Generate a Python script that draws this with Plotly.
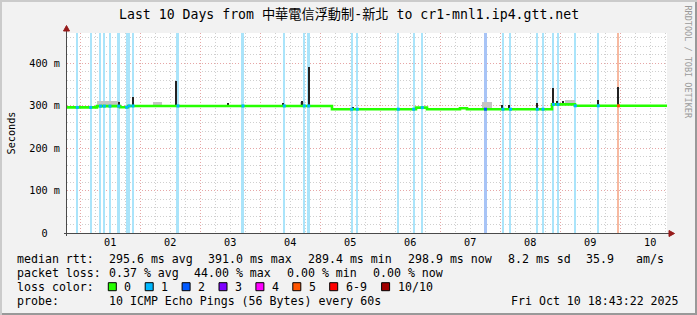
import plotly.graph_objects as go
import pandas as pd

# ---------------- data ----------------
t_start = "2025-09-30 18:43:22"
t_end = "2025-10-10 18:43:22"
y_top = 0.4706  # seconds, top of value axis

# median RTT (ms), step changes
median_times = ["2025-09-30 18:43", "2025-10-01 06:43", "2025-10-01 15:55", "2025-10-01 19:07",
                "2025-10-05 04:43", "2025-10-06 14:19", "2025-10-06 18:43", "2025-10-07 07:55",
                "2025-10-07 10:43", "2025-10-08 20:43", "2025-10-09 05:55", "2025-10-10 18:43"]
median_ms = [295.5, 298.5, 295.8, 299.0, 291.3, 295.0, 291.3, 293.5, 291.3, 302.6, 299.3, 299.3]

# packet-loss intervals: time, duration (minutes), loss level (x/10)
loss_times = ["2025-09-30 22:50", "2025-10-01 04:12", "2025-10-01 08:07", "2025-10-01 09:38",
              "2025-10-01 11:55", "2025-10-01 15:24", "2025-10-01 18:36", "2025-10-01 19:36",
              "2025-10-01 21:07", "2025-10-02 15:07", "2025-10-03 17:07", "2025-10-04 09:38",
              "2025-10-04 17:38", "2025-10-04 19:24", "2025-10-05 12:36", "2025-10-05 14:50",
              "2025-10-06 07:14", "2025-10-06 13:24", "2025-10-06 16:50", "2025-10-07 18:07",
              "2025-10-08 01:07", "2025-10-08 04:07", "2025-10-08 14:50", "2025-10-08 17:07",
              "2025-10-08 21:19", "2025-10-08 23:07", "2025-10-09 06:02", "2025-10-09 15:14",
              "2025-10-09 23:19"]
loss_minutes = [24, 24, 24, 24, 24, 72, 48, 48, 48, 72, 72, 24, 24, 72, 24, 24, 24, 24, 24, 72,
                24, 24, 24, 48, 48, 48, 48, 24, 24]
loss_levels = [1, 1, 1, 1, 1, 1, 1, 1, 1, 1, 1, 1, 1, 1, 1, 1, 1, 1, 1, 2,
               1, 1, 1, 1, 1, 1, 1, 1, 5]

# light smoke (ping spread) areas: start, end, low ms, high ms
smoke_start = ["2025-10-01 06:50", "2025-10-02 05:07", "2025-10-04 15:55", "2025-10-07 16:36", "2025-10-09 01:55"]
smoke_end = ["2025-10-01 15:30", "2025-10-02 08:43", "2025-10-04 17:30", "2025-10-07 20:36", "2025-10-09 05:55"]
smoke_low = [300.0, 300.5, 300.0, 292.0, 302.5]
smoke_high = [311.5, 309.0, 309.0, 308.0, 313.0]

# dark smoke spikes (max pings): time, low ms, high ms
spike_times = ["2025-10-01 15:24", "2025-10-01 21:07", "2025-10-02 14:19", "2025-10-03 11:14",
               "2025-10-04 09:14", "2025-10-04 16:43", "2025-10-04 19:31", "2025-10-05 13:00",
               "2025-10-06 07:00", "2025-10-08 00:43", "2025-10-08 03:31", "2025-10-08 14:50",
               "2025-10-08 21:14", "2025-10-08 22:55", "2025-10-09 01:05", "2025-10-09 15:00",
               "2025-10-09 23:19"]
spike_low = [299.0, 299.0, 299.0, 299.0, 299.0, 299.0, 299.0, 290.0, 289.5, 290.0, 290.0, 290.0,
             302.0, 301.0, 301.0, 299.0, 299.0]
spike_high = [309.0, 320.0, 357.0, 305.0, 306.0, 310.0, 391.0, 296.0, 295.0, 302.0, 302.0, 305.0,
              341.0, 310.0, 310.0, 312.0, 343.0]

day_labels_fmt = "%d"
y_tick_vals = [0, 0.1, 0.2, 0.3, 0.4]
y_tick_text = ["0\u00a0\u00a0", "100 m", "200 m", "300 m", "400 m"]

title_text = "Last 10 Days from 中華電信浮動制-新北 to cr1-mnl1.ip4.gtt.net"
row1 = ["median rtt:", "295.6 ms avg", "391.0 ms max", "289.4 ms min", "298.9 ms now", "8.2 ms sd", "35.9", "am/s"]
row2 = ["packet loss:", "0.37 % avg", "44.00 % max", "0.00 % min", "0.00 % now"]
loss_legend_labels = ["0", "1", "2", "3", "4", "5", "6-9", "10/10"]
probe_label = "probe:"
probe_text = "10 ICMP Echo Pings (56 Bytes) every 60s"
stamp_text = "Fri Oct 10 18:43:22 2025"

loss_line_color = {0: "#26ff00", 1: "#00b8ff", 2: "#0059ff", 3: "#7e00ff", 4: "#ff00ff",
                   5: "#ff5500", 6: "#ff0000", 10: "#a10000"}
legend_swatch_colors = ["#26ff00", "#00b8ff", "#0059ff", "#7e00ff", "#ff00ff", "#ff5500", "#ff0000", "#a10000"]
loss_bg_color = {1: "#aae4fa", 2: "#a8c4f6", 5: "#f7b9a0"}

# ---------------- geometry ----------------
W, H = 697, 315
L, R, T, B = 67, 667, 33, 233


def X(px):
    return (px - L) / (R - L)


def Y(py):
    return (B - py) / (B - T)


MONO = "DejaVu Sans Mono, Noto Sans CJK TC, monospace"

fig = go.Figure()

# loss background bars
fig.add_trace(go.Bar(
    x=loss_times, y=[y_top] * len(loss_times), base=0,
    width=[m * 60000 for m in loss_minutes],
    marker=dict(color=[loss_bg_color[l] for l in loss_levels], line=dict(width=0)),
    hoverinfo="skip", showlegend=False))

# light smoke
s0 = pd.to_datetime(smoke_start)
s1 = pd.to_datetime(smoke_end)
fig.add_trace(go.Bar(
    x=list(s0 + (s1 - s0) / 2), width=[(b - a).total_seconds() * 1000 for a, b in zip(s0, s1)],
    base=[v / 1000 for v in smoke_low], y=[(h - l) / 1000 for l, h in zip(smoke_low, smoke_high)],
    marker=dict(color="#c4c4c4", line=dict(width=0)), hoverinfo="skip", showlegend=False))

# dark spikes
fig.add_trace(go.Bar(
    x=spike_times, width=[30 * 60000] * len(spike_times),
    base=[v / 1000 for v in spike_low], y=[(h - l) / 1000 for l, h in zip(spike_low, spike_high)],
    marker=dict(color="#222222", line=dict(width=0)), hoverinfo="skip", showlegend=False))

# median line
fig.add_trace(go.Scatter(
    x=median_times, y=[v / 1000 for v in median_ms], mode="lines", line_shape="hv",
    line=dict(color=loss_line_color[0], width=2.6), hoverinfo="skip", showlegend=False))

# loss-coloured median segments
mt = pd.to_datetime(median_times)
lt = pd.to_datetime(loss_times)
idx = mt.searchsorted(lt, side="right") - 1
fig.add_trace(go.Scatter(
    x=loss_times, y=[median_ms[i] / 1000 for i in idx], mode="markers",
    marker=dict(symbol="square", size=3, color=[loss_line_color[l] for l in loss_levels], line=dict(width=0)),
    hoverinfo="skip", showlegend=False))

GRID_MAJ = "#e6a6a6"
GRID_MIN = "#cfcfcf"
DASH = "1px,2px"

fig.update_xaxes(
    type="date", range=[t_start, t_end], tick0="2025-10-01", dtick=86400000,
    tickformat=day_labels_fmt, ticklabelmode="period", ticks="", showline=False,
    showgrid=True, gridcolor=GRID_MAJ, griddash=DASH, gridwidth=1,
    minor=dict(dtick=21600000, tick0="2025-10-01", showgrid=True, gridcolor=GRID_MIN, griddash=DASH, gridwidth=1),
    tickfont=dict(family=MONO, size=10.2, color="#000"), ticklabelstandoff=2, fixedrange=True)
fig.update_yaxes(
    range=[0, y_top], tickvals=y_tick_vals, ticktext=y_tick_text, ticks="", showline=False,
    zeroline=False, showgrid=True, gridcolor=GRID_MAJ, griddash=DASH, gridwidth=1,
    minor=dict(dtick=0.02, tick0=0, showgrid=True, gridcolor=GRID_MIN, griddash=DASH, gridwidth=1),
    tickfont=dict(family=MONO, size=10.2, color="#000"), ticklabelstandoff=6, fixedrange=True)

shapes = []
# frame
shapes += [
    dict(type="rect", xref="paper", yref="paper", x0=X(0), x1=X(W), y0=Y(0), y1=Y(2), fillcolor="#cbcbcb", line_width=0, layer="above"),
    dict(type="rect", xref="paper", yref="paper", x0=X(0), x1=X(2), y0=Y(0), y1=Y(H), fillcolor="#cbcbcb", line_width=0, layer="above"),
    dict(type="rect", xref="paper", yref="paper", x0=X(2), x1=X(W), y0=Y(H - 2), y1=Y(H), fillcolor="#999999", line_width=0, layer="above"),
    dict(type="rect", xref="paper", yref="paper", x0=X(W - 2), x1=X(W), y0=Y(2), y1=Y(H), fillcolor="#999999", line_width=0, layer="above"),
]
# axes
AX = "#4a4a4a"
ARROW = "#961a1a"
shapes += [
    dict(type="line", xref="paper", yref="paper", x0=X(64), x1=X(669), y0=Y(233.5), y1=Y(233.5), line=dict(color=AX, width=1), layer="above"),
    dict(type="line", xref="paper", yref="paper", x0=X(66.5), x1=X(66.5), y0=Y(236), y1=Y(30), line=dict(color=AX, width=1), layer="above"),
    dict(type="path", xref="paper", yref="paper", layer="above", fillcolor=ARROW, line=dict(color=ARROW, width=1),
         path=f"M {X(63.5)} {Y(31)} L {X(69.5)} {Y(31)} L {X(66.5)} {Y(25.5)} Z"),
    dict(type="path", xref="paper", yref="paper", layer="above", fillcolor=ARROW, line=dict(color=ARROW, width=1),
         path=f"M {X(669)} {Y(230.5)} L {X(669)} {Y(236.5)} L {X(674.5)} {Y(233.5)} Z"),
]
# loss colour legend swatches
swatch_x = [108.3, 145.2, 182.1, 219.0, 255.9, 292.8, 329.7, 381.6]
for sx, col in zip(swatch_x, legend_swatch_colors):
    shapes.append(dict(type="rect", xref="paper", yref="paper", x0=X(sx), x1=X(sx + 8), y0=Y(282.7), y1=Y(290.7),
                       fillcolor=col, line=dict(color="#000", width=1), layer="above"))

ann = []


def txt(text, px, py, size=11.6, anchor="left", color="#000", angle=0):
    ann.append(dict(text=text, xref="paper", yref="paper", x=X(px), y=Y(py), xanchor=anchor, yanchor="middle",
                    showarrow=False, borderpad=0, textangle=angle, font=dict(family=MONO, size=size, color=color)))


txt(title_text, 348.5, 14.5, size=13.2, anchor="center")
txt("Seconds", 10.5, 133, size=10.2, anchor="center", angle=-90)
ann.append(dict(text="RRDTOOL / TOBI OETIKER", xref="paper", yref="paper", x=X(688), y=Y(4), xanchor="center",
                yanchor="top", showarrow=False, borderpad=0, textangle=90,
                font=dict(family=MONO, size=8.5, color="#9a9a9a")))

row1_x = [16, 107.7, 207.4, 307.1, 406.8, 506.5, 585.2, 635]
for s, px in zip(row1, row1_x):
    txt(s, px, 259.3)
row2_x = [16, 107.7, 193.4, 286.1, 371.8]
for s, px in zip(row2, row2_x):
    txt(s, px, 273.3)
txt("loss color:", 16, 286.7)
for sx, lab in zip(swatch_x, loss_legend_labels):
    txt(lab, sx + 15, 286.7)
txt(probe_label, 16, 301)
txt(probe_text, 107.7, 301)
txt(stamp_text, 680, 301, anchor="right")

fig.update_layout(
    width=W, height=H, margin=dict(l=L, r=W - R, t=T, b=H - B, pad=0),
    paper_bgcolor="#f2f2f2", plot_bgcolor="#ffffff", barmode="overlay", bargap=0,
    showlegend=False, shapes=shapes, annotations=ann,
    font=dict(family=MONO, color="#000"))

fig.write_html("out.html")
